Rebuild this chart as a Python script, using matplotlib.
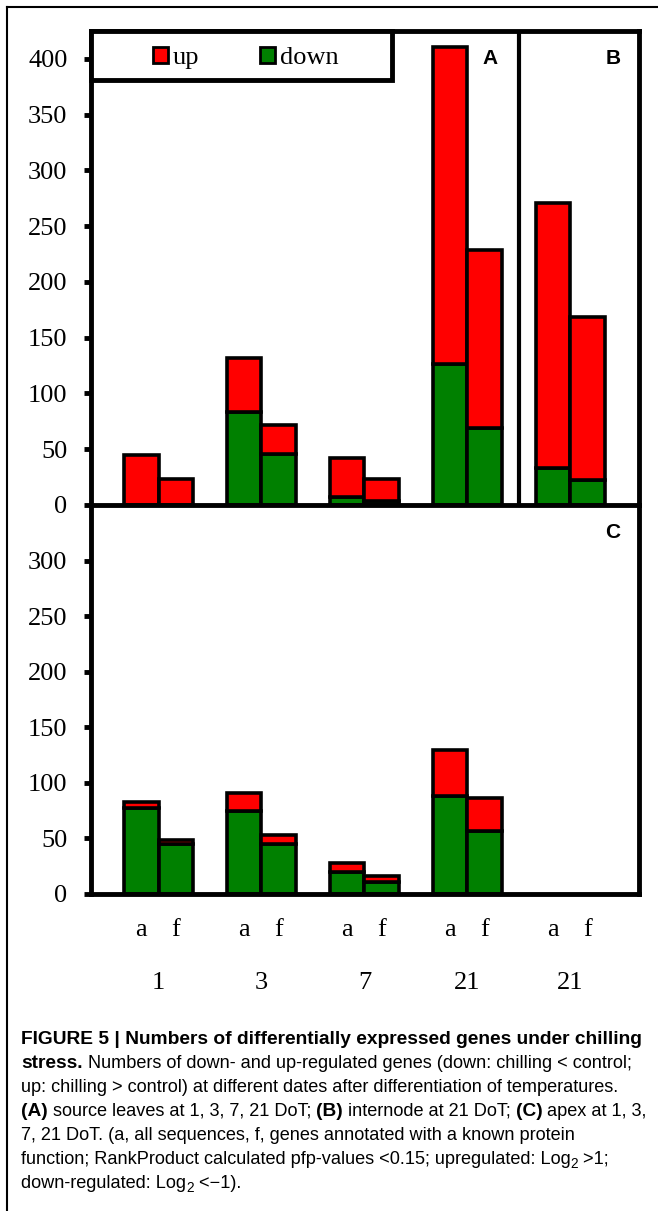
import matplotlib
matplotlib.use("Agg")
import matplotlib.pyplot as plt
import matplotlib.transforms as mtransforms
from matplotlib.patches import Patch, Rectangle
from matplotlib.lines import Line2D
import numpy as np

# days after differentiation of temperatures
days = ["1", "3", "7", "21", "21"]
seq_labels = ["a", "f"]

# top panel: A = source leaves (1, 3, 7, 21 DoT), B = internode (21 DoT)
top_down_a = [0, 83, 7, 126, 33]
top_up_a = [45, 49, 35, 285, 238]
top_down_f = [0, 46, 4, 69, 22]
top_up_f = [23, 26, 19, 160, 147]

# bottom panel: C = apex (1, 3, 7, 21 DoT)
apex_down_a = [77, 75, 20, 88]
apex_up_a = [6, 16, 8, 42]
apex_down_f = [45, 45, 11, 57]
apex_up_f = [4, 8, 5, 29]

red = "#ff0000"
green = "#008000"

plt.rcParams["font.family"] = ["Liberation Serif", "DejaVu Serif"]

W, H = 658, 1211
fig = plt.figure(figsize=(W / 100, H / 100), dpi=100)


def fx(px):
    return px / W


def fy(py):
    return 1 - py / H


left, right = 91, 638.5
ax1 = fig.add_axes([fx(left), fy(505), fx(right) - fx(left), fy(31) - fy(505)])
ax2 = fig.add_axes([fx(left), fy(894), fx(right) - fx(left), fy(505) - fy(894)])

bw = 0.336
x = np.arange(len(days))
edge_lw = 2.6


def draw_bars(ax, down_a, up_a, down_f, up_f):
    n = len(down_a)
    xa = x[:n] - bw / 2
    xf = x[:n] + bw / 2
    ax.bar(xa, down_a, bw, color=green, edgecolor="black", linewidth=edge_lw)
    ax.bar(xa, up_a, bw, bottom=down_a, color=red, edgecolor="black", linewidth=edge_lw)
    ax.bar(xf, down_f, bw, color=green, edgecolor="black", linewidth=edge_lw)
    ax.bar(xf, up_f, bw, bottom=down_f, color=red, edgecolor="black", linewidth=edge_lw)


draw_bars(ax1, top_down_a, top_up_a, top_down_f, top_up_f)
draw_bars(ax2, apex_down_a, apex_up_a, apex_down_f, apex_up_f)

for ax in (ax1, ax2):
    ax.set_xlim(-0.657, 4.664)
    for s in ax.spines.values():
        s.set_linewidth(3.5)
    ax.tick_params(axis="y", direction="out", length=5, width=3.5, pad=12, labelsize=19)

ax1.set_ylim(0, 425)
ax1.set_yticks(range(0, 401, 50))
ax1.set_xticks([])
ax1.spines["bottom"].set_visible(False)
ax1.axvline(3.5, color="black", linewidth=3)

ax2.set_ylim(0, 350)
ax2.set_yticks(range(0, 301, 50))
ticks = []
for i in x:
    ticks += [i - bw / 2, i + bw / 2]
ax2.set_xticks(ticks)
ax2.set_xticklabels(seq_labels * len(days))
ax2.tick_params(axis="x", length=0, pad=18, labelsize=19)

# group labels (days)
trans = mtransforms.blended_transform_factory(ax2.transData, fig.transFigure)
for i, d in enumerate(days):
    ax2.text(i, fy(989), d, transform=trans, ha="center", va="baseline", fontsize=19)

# legend box in the top-left corner
box_w = (392 - left) / (right - left)
box_h = (80 - 31) / (505 - 31)
ax1.add_patch(Rectangle((0, 1 - box_h), box_w, box_h, transform=ax1.transAxes,
                        facecolor="white", edgecolor="black", linewidth=3.5,
                        zorder=5, clip_on=False))
handles = [Patch(facecolor=red, edgecolor="black", linewidth=2, joinstyle="round"),
           Patch(facecolor=green, edgecolor="black", linewidth=2, joinstyle="round")]
leg = ax1.legend(handles, ["up", "down"], ncol=2, loc="center",
                 bbox_to_anchor=(box_w / 2 + 0.008, 1 - box_h / 2 - 0.005), frameon=False,
                 fontsize=19, handlelength=0.55, handleheight=0.55,
                 handletextpad=0.2, columnspacing=2.3, borderpad=0, borderaxespad=0)
leg.set_zorder(6)

# panel letters
for lab, px, py in [("A", 490, 59), ("B", 613, 59), ("C", 613, 532)]:
    fig.text(fx(px), fy(py), lab, fontsize=15, fontweight="bold",
             family=["Liberation Sans"], ha="center", va="center")

# outer frame (left and top)
fig.add_artist(Line2D([fx(6.5), fx(6.5)], [0, fy(6.5)], color="black", linewidth=1.5))
fig.add_artist(Line2D([fx(6.5), 1], [fy(6.5), fy(6.5)], color="black", linewidth=1.5))

# caption
cap_size = 13.1
bold_size = 13.8
renderer = fig.canvas.get_renderer()


def run_width(s, size, bold):
    t1 = fig.text(0, 0, "x" + s + "x", fontsize=size, family=["Liberation Sans"],
                  fontweight="bold" if bold else "normal")
    t2 = fig.text(0, 0, "xx", fontsize=size, family=["Liberation Sans"],
                  fontweight="bold" if bold else "normal")
    w = t1.get_window_extent(renderer).width - t2.get_window_extent(renderer).width
    t1.remove()
    t2.remove()
    return w


def caption_line(yb, runs):
    xp = 21
    for s, bold, sub in runs:
        size = bold_size if bold else cap_size
        if sub:
            size = cap_size * 0.75
        yy = yb + 4 if sub else yb
        fig.text(fx(xp), fy(yy), s, fontsize=size, family=["Liberation Sans", "DejaVu Sans"],
                 fontweight="bold" if bold else "normal", ha="left", va="baseline")
        xp += run_width(s, size, bold)


caption = [
    [("FIGURE 5 | Numbers of differentially expressed genes under chilling", True, False)],
    [("stress.", True, False),
     (" Numbers of down- and up-regulated genes (down: chilling < control;", False, False)],
    [("up: chilling > control) at different dates after differentiation of temperatures.", False, False)],
    [("(A)", True, False), (" source leaves at 1, 3, 7, 21 DoT; ", False, False),
     ("(B)", True, False), (" internode at 21 DoT; ", False, False),
     ("(C)", True, False), (" apex at 1, 3,", False, False)],
    [("7, 21 DoT. (a, all sequences, f, genes annotated with a known protein", False, False)],
    [("function; RankProduct calculated pfp-values <0.15; upregulated: Log", False, False),
     ("2", False, True), (" >1;", False, False)],
    [("down-regulated: Log", False, False), ("2", False, True), (" <\u22121).", False, False)],
]
for k, runs in enumerate(caption):
    caption_line(1044 + 24 * k, runs)

fig.savefig("out.png", dpi=100)
